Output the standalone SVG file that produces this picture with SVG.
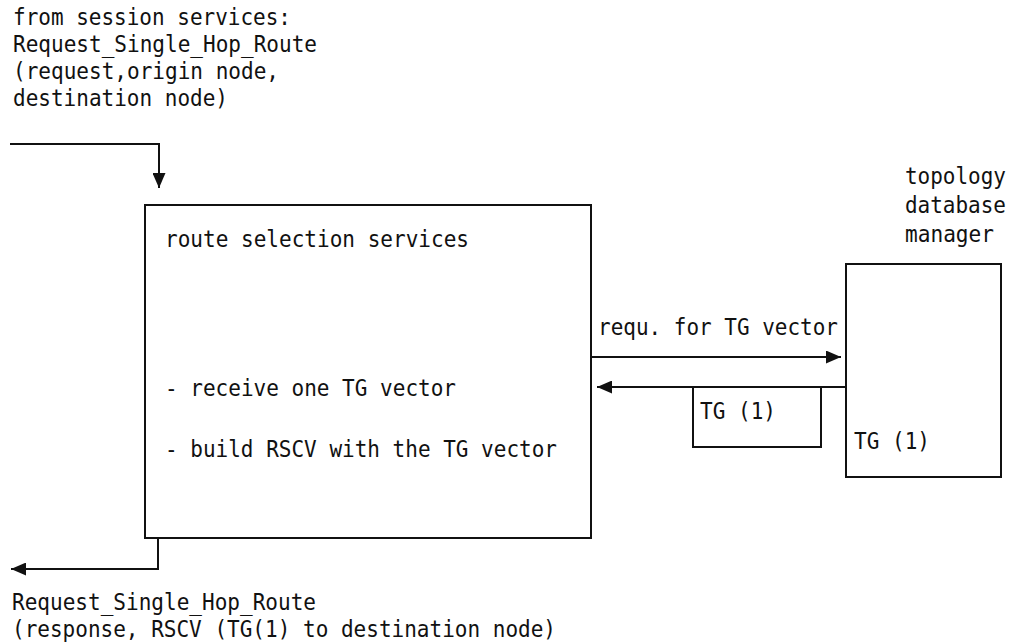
<svg xmlns="http://www.w3.org/2000/svg" width="1020" height="643" viewBox="0 0 1020 643">
<style>
  text { font-family: "DejaVu Sans Mono", "Liberation Mono", monospace; font-size: 23.5px; fill: #111; }
  .box { fill: none; stroke: #111; stroke-width: 2; }
  .conn { fill: none; stroke: #111; stroke-width: 2; }
</style>
<defs>
  <marker id="arrow" markerUnits="userSpaceOnUse" markerWidth="15" markerHeight="13" refX="15" refY="6.5" orient="auto">
    <path d="M0,0 L15,6.5 L0,13 z" fill="#111"/>
  </marker>
</defs>
<rect width="1020" height="643" fill="#fff"/>

<g id="input-label">
  <text x="13" y="25" textLength="278" lengthAdjust="spacingAndGlyphs">from session services:</text>
  <text x="13" y="52" textLength="304" lengthAdjust="spacingAndGlyphs">Request_Single_Hop_Route</text>
  <text x="13" y="79" textLength="266" lengthAdjust="spacingAndGlyphs">(request,origin node,</text>
  <text x="13" y="106" textLength="215" lengthAdjust="spacingAndGlyphs">destination node)</text>
</g>

<g id="route-selection-services">
  <rect class="box" x="145" y="205" width="446" height="333"/>
  <text x="165" y="247" textLength="304" lengthAdjust="spacingAndGlyphs">route selection services</text>
  <text x="165" y="396" textLength="291" lengthAdjust="spacingAndGlyphs">- receive one TG vector</text>
  <text x="165" y="457" textLength="392" lengthAdjust="spacingAndGlyphs">- build RSCV with the TG vector</text>
</g>

<g id="topology-database-manager">
  <text x="905" y="184" textLength="101" lengthAdjust="spacingAndGlyphs">topology</text>
  <text x="905" y="213" textLength="101" lengthAdjust="spacingAndGlyphs">database</text>
  <text x="905" y="242" textLength="89" lengthAdjust="spacingAndGlyphs">manager</text>
  <rect class="box" x="846" y="264" width="155" height="213"/>
  <text x="854" y="449" textLength="76" lengthAdjust="spacingAndGlyphs">TG (1)</text>
</g>

<g id="tg-message">
  <rect class="box" x="693" y="387" width="128" height="60"/>
  <text x="700" y="419" textLength="76" lengthAdjust="spacingAndGlyphs">TG (1)</text>
</g>

<g id="connectors">
  <path class="conn" d="M10,144 H159 V188" marker-end="url(#arrow)"/>
  <path class="conn" d="M158,538 V569 H11" marker-end="url(#arrow)"/>
  <path class="conn" d="M591,357 H841" marker-end="url(#arrow)"/>
  <path class="conn" d="M846,387 H597" marker-end="url(#arrow)"/>
  <text x="598" y="335" textLength="240" lengthAdjust="spacingAndGlyphs">requ. for TG vector</text>
</g>

<g id="output-label">
  <text x="12" y="610" textLength="304" lengthAdjust="spacingAndGlyphs">Request_Single_Hop_Route</text>
  <text x="12" y="637" textLength="544" lengthAdjust="spacingAndGlyphs">(response, RSCV (TG(1) to destination node)</text>
</g>
</svg>
